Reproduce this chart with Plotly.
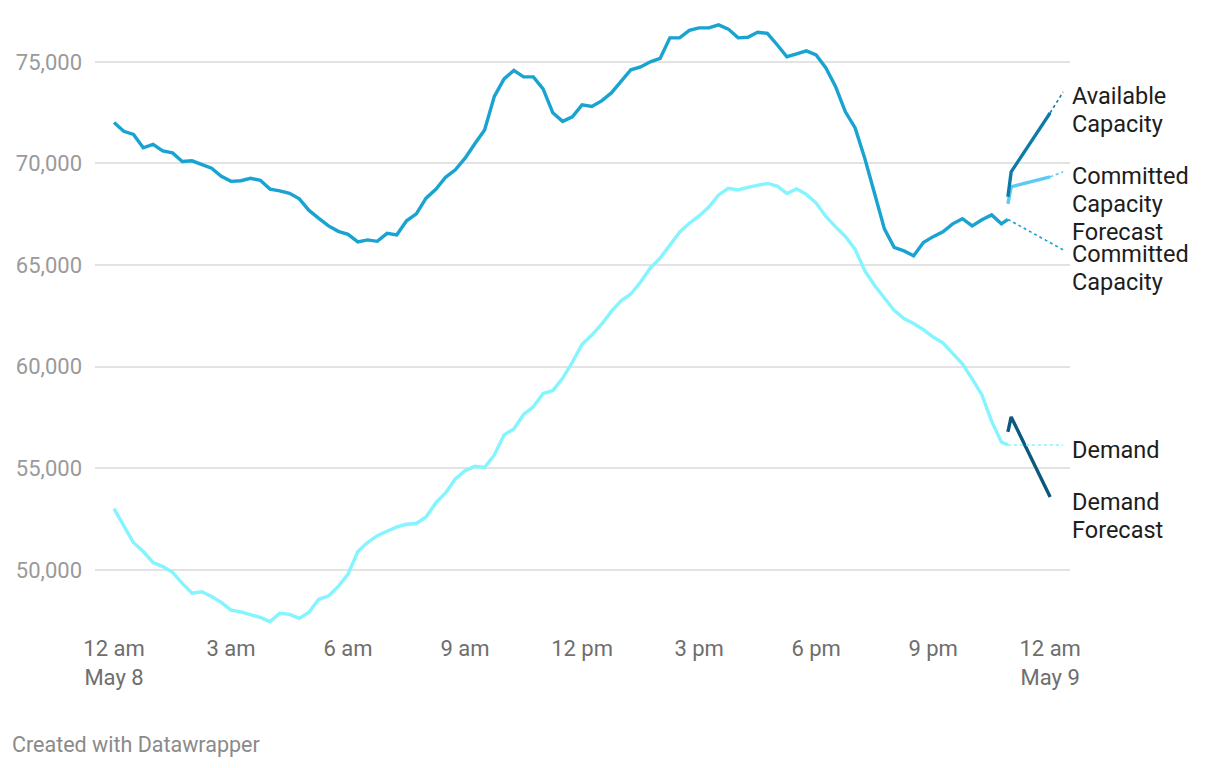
import pandas as pd
import plotly.graph_objects as go

# ---------------- data ----------------
start = pd.Timestamp("2024-05-08 00:00")
times = list(pd.date_range(start, periods=92, freq="15min")) + [pd.Timestamp("2024-05-08 22:55")]

committed_capacity = [
    72010, 71580, 71430, 70770, 70940, 70620, 70520, 70100, 70130, 69970,
    69770, 69370, 69120, 69150, 69270, 69170, 68740, 68650, 68530, 68260,
    67690, 67300, 66930, 66660, 66510, 66140, 66240, 66170, 66560, 66490,
    67180, 67520, 68290, 68730, 69320, 69690, 70260, 70970, 71650, 73300,
    74160, 74580, 74260, 74260, 73670, 72490, 72070, 72290, 72880, 72800,
    73080, 73470, 74070, 74610, 74750, 75000, 75170, 76180, 76180, 76550,
    76670, 76670, 76820, 76610, 76180, 76210, 76450, 76400, 75840, 75250,
    75390, 75540, 75340, 74700, 73770, 72540, 71750, 70230, 68510, 66780,
    65870, 65700, 65460, 66110, 66400, 66640, 67030, 67280, 66930, 67230,
    67470, 67030, 67250,
]

demand = [
    53020, 52160, 51340, 50910, 50370, 50170, 49890, 49340, 48860, 48930,
    48700, 48410, 48030, 47940, 47810, 47670, 47460, 47870, 47820, 47620,
    47920, 48560, 48720, 49190, 49800, 50910, 51350, 51690, 51910, 52120,
    52250, 52290, 52610, 53300, 53790, 54480, 54890, 55100, 55040, 55660,
    56650, 56940, 57650, 58030, 58680, 58830, 59430, 60220, 61100, 61560,
    62090, 62720, 63240, 63580, 64170, 64860, 65340, 65970, 66620, 67060,
    67420, 67860, 68450, 68780, 68700, 68820, 68940, 69020, 68890, 68520,
    68750, 68480, 68050, 67390, 66880, 66410, 65770, 64710, 64000, 63380,
    62770, 62370, 62130, 61830, 61460, 61180, 60640, 60140, 59400, 58610,
    57310, 56300, 56150,
]

forecast_times = [pd.Timestamp("2024-05-08 22:55"), pd.Timestamp("2024-05-08 23:00"),
                  pd.Timestamp("2024-05-09 00:00")]
available_capacity_fc = [68360, 69590, 72490]
committed_capacity_fc = [68010, 68850, 69340]
demand_fc = [56800, 57530, 53590]

tick_times = list(pd.date_range(start, periods=9, freq="3h"))
tick_labels = ["12 am<br>May 8", "3 am", "6 am", "9 am", "12 pm", "3 pm", "6 pm", "9 pm",
               "12 am<br>May 9"]
y_ticks = [50000, 55000, 60000, 65000, 70000, 75000]

# ---------------- style ----------------
C_CAP = "#19a3d1"
C_DEM = "#84f4ff"
C_AVAIL_FC = "#0e7ba7"
C_CAP_FC = "#5ccaf5"
C_DEM_FC = "#0b5a7e"
FONT = "Roboto"

W, H = 1220, 768
plot_l, plot_r, plot_t, plot_b = 95, 150, 11.2, 136.9
pw, ph = W - plot_l - plot_r, H - plot_t - plot_b

def py(px):   # pixel row -> paper y
    return (H - plot_b - px) / ph

def pxx(px):  # pixel column -> paper x
    return (px - plot_l) / pw

fig = go.Figure()

def line(x, y, color, width=3.4, dash=None):
    fig.add_trace(go.Scatter(
        x=x, y=y, mode="lines",
        line=dict(color=color, width=width, dash=dash, shape="linear"),
        hoverinfo="skip", showlegend=False,
    ))

line(times, demand, C_DEM)
line(times, committed_capacity, C_CAP)
line(forecast_times, committed_capacity_fc, C_CAP_FC)
line(forecast_times, available_capacity_fc, C_AVAIL_FC)
line(forecast_times, demand_fc, C_DEM_FC)

# direct labels (Datawrapper style) with dotted connectors
label_x = pd.Timestamp("2024-05-09 00:20")
labels = [
    # lines of text, connector colour, series end (x, y), connector end y, first-line pixel row
    (["Available", "Capacity"], C_AVAIL_FC, forecast_times[-1], available_capacity_fc[-1], 73520, 96),
    (["Committed", "Capacity", "Forecast"], C_CAP_FC, forecast_times[-1], committed_capacity_fc[-1], 69590, 176),
    (["Committed", "Capacity"], C_CAP, times[-1], committed_capacity[-1], 65750, 254),
    (["Demand"], C_DEM, times[-1], demand[-1], demand[-1], 450),
    (["Demand", "Forecast"], C_DEM_FC, None, None, None, 502),
]
LINE_H = 28
for parts, col, ex, ey, cy, row in labels:
    if ex is not None:
        line([ex, label_x], [ey, cy], col, width=1.6, dash="dot")
    for i, t in enumerate(parts):
        fig.add_annotation(
            x=pxx(1070), xref="paper", y=py(row + i * LINE_H), yref="paper",
            text=t, showarrow=False, xanchor="left", yanchor="middle", align="left",
            font=dict(family=FONT, size=23.5, color="#1d1d1d"),
        )

fig.add_annotation(
    x=pxx(10), xref="paper", y=py(745), yref="paper",
    text="Created with Datawrapper",
    showarrow=False, xanchor="left", yanchor="middle",
    font=dict(family=FONT, size=21.5, color="#8a8a8a"),
)

fig.update_layout(
    width=W, height=H,
    margin=dict(l=plot_l, r=plot_r, t=plot_t, b=plot_b, pad=0),
    plot_bgcolor="white", paper_bgcolor="white",
    font=dict(family=FONT),
    showlegend=False,
    xaxis=dict(
        range=[pd.Timestamp("2024-05-07 23:30:45"), pd.Timestamp("2024-05-09 00:30:30")],
        tickvals=tick_times, ticktext=tick_labels,
        showgrid=False, zeroline=False, showline=False, ticks="",
        tickfont=dict(family=FONT, size=22, color="#6e6e6e"),
        ticklabelstandoff=2,
    ),
    yaxis=dict(
        range=[47000, 77500], tickvals=y_ticks, tickformat=",",
        showgrid=True, gridcolor="#e3e3e3", gridwidth=2,
        zeroline=False, showline=False, ticks="",
        tickfont=dict(family=FONT, size=22, color="#9a9a9a"),
        ticklabelstandoff=12,
    ),
)

fig.write_html(
    "out.html",
    config={"displayModeBar": False},
    post_script="document.body.style.margin='0';document.body.style.overflow='hidden';",
)
